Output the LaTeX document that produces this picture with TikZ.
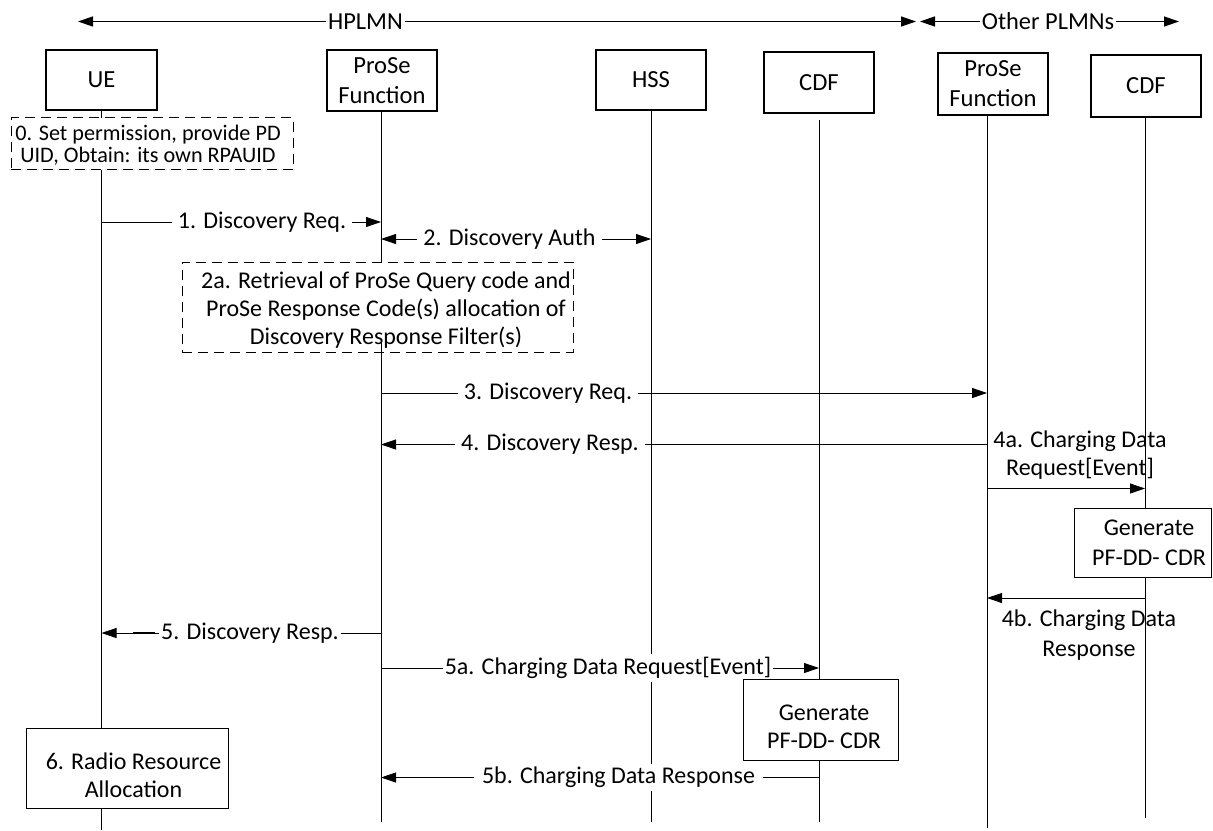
\documentclass[tikz,border=0pt]{standalone}
\usepackage{fontspec}
\setmainfont{Carlito}
\usetikzlibrary{arrows.meta,backgrounds}
\begin{document}
\begin{tikzpicture}[x=0.5pt,y=-0.5pt,line width=0.65pt,
  >={Triangle[length=7.5pt,width=5pt]},
  font=\fontsize{12}{14.2}\selectfont,
  ent/.style={draw,fill=white,align=center,inner sep=0pt,font=\fontsize{12.3}{15}\selectfont},
  notebox/.style={draw,dash pattern=on 5pt off 3pt,fill=white,align=center,inner sep=0pt},
  actbox/.style={draw,fill=white,align=center,inner sep=0pt},
  lbl/.style={fill=white,inner sep=1.5pt},
  plain/.style={align=center,inner sep=0pt}]
\useasboundingbox (0,0) rectangle (1213,830);

% header
\coordinate (hl) at (78,21.5);
\coordinate (hr) at (916,21.5);
\coordinate (ol) at (920,21.5);
\coordinate (or) at (1179,21.5);
\draw[<->] (hl) -- (hr);
\draw[<->] (ol) -- (or);
\node[lbl,inner sep=1pt,font=\fontsize{12.2}{14}\selectfont] (hplmn) at (365.5,21.5) {HPLMN};
\node[lbl,inner sep=1pt,font=\fontsize{12.2}{14}\selectfont] (oplmn) at (1048,21.5) {Other PLMNs};

% entities
\node[ent,minimum width=55.5pt,minimum height=30pt] (ue) at (101.5,80) {UE};
\node[ent,minimum width=55pt,minimum height=30.5pt] (pf1) at (382,80.5) {ProSe\\Function};
\node[ent,minimum width=55pt,minimum height=30pt] (hss) at (651,80) {HSS};
\node[ent,minimum width=55pt,minimum height=30.5pt] (cdf1) at (819,82.5) {CDF};
\node[ent,minimum width=55pt,minimum height=31pt] (pf2) at (993,84) {ProSe\\Function};
\node[ent,minimum width=55pt,minimum height=31pt] (cdf2) at (1146,86) {CDF};

% lifeline ends
\coordinate (ueb) at (101.5,830);
\coordinate (pf1b) at (381,822);
\coordinate (hssb) at (651,822);
\coordinate (cdf1t) at (819,120);
\coordinate (cdf1b) at (819,822);
\coordinate (pf2b) at (987,828);
\coordinate (cdf2b) at (1145,818);

\begin{pgfonlayer}{background}
\draw (ueb |- ue.south) -- (ueb);
\draw (pf1b |- pf1.south) -- (pf1b);
\draw (hss.south) -- (hssb);
\draw (cdf1t) -- (cdf1b);
\draw (pf2b |- pf2.south) -- (pf2b);
\draw (cdf2b |- cdf2.south) -- (cdf2b);
\end{pgfonlayer}

% step 0
\node[notebox,minimum width=141pt,minimum height=26pt] (n0) at (152,143.5) {};
\node[plain,font=\fontsize{11.1}{11}\selectfont] (t0) at (148,145)
  {0. Set permission, provide PD\\UID, Obtain: its own RPAUID};

% 1
\draw[->] (ueb |- 0,222) -- (pf1b |- 0,222);
\node[lbl,inner xsep=3pt] (l1) at (262,222) {1. Discovery Req.};
% 2
\draw[<->] (pf1b |- 0,239) -- (hssb |- 0,239);
\node[lbl,inner xsep=3pt] (l2) at (509.5,239) {2. Discovery Auth};
% 2a
\node[notebox,minimum width=195.5pt,minimum height=45pt] (n2a) at (377.5,307) {};
\node[plain] (t2a) at (386,310) {2a. Retrieval of ProSe Query code and\\ProSe Response Code(s) allocation of\\Discovery Response Filter(s)};
\coordinate (c2a) at (381,339);
\draw (c2a) -- (c2a |- n2a.south);
% 3
\draw[->] (pf1b |- 0,393) -- (pf2b |- 0,393);
\node[lbl,inner xsep=3pt] (l3) at (548,393) {3. Discovery Req.};
% 4
\draw[->] (pf2b |- 0,444.5) -- (pf1b |- 0,444.5);
\node[lbl,inner xsep=3pt] (l4) at (550,444.5) {4. Discovery Resp.};
% 4a
\node[plain] (l4a) at (1080,455) {4a. Charging Data\\Request[Event]};
\draw[->] (pf2b |- 0,488.5) -- (cdf2b |- 0,488.5);
\node[actbox,minimum width=68.5pt,minimum height=34.5pt] (g1) at (1142.5,543) {};
\node[plain,font=\fontsize{12}{15}\selectfont] (tg1) at (1149,543) {Generate\\PF-DD- CDR};
% 4b
\draw[->] (cdf2b |- 0,598) -- (pf2b |- 0,598);
\node[plain,font=\fontsize{12}{15}\selectfont] (l4b) at (1089,635) {4b. Charging Data\\Response};
% 5
\draw[->] (pf1b |- 0,633) -- (ueb |- 0,633);
\node[lbl,inner xsep=1pt] (l5) at (250,633) {5. Discovery Resp.};
\coordinate (d5a) at (133,633);
\coordinate (d5b) at (155,633);
\draw[line width=1.4pt] (d5a) -- (d5b);
% 5a
\draw[->] (pf1b |- 0,668) -- (cdf1b |- 0,668);
\node[lbl,inner xsep=1pt] (l5a) at (608,668) {5a. Charging Data Request[Event]};
\node[actbox,minimum width=77.5pt,minimum height=40.5pt] (g2) at (820.5,719.5) {};
\node[plain] (tg2) at (824,727) {Generate\\PF-DD- CDR};
% 5b
\draw[->] (cdf1b |- 0,777.5) -- (pf1b |- 0,777.5);
\node[lbl,inner xsep=4pt] (l5b) at (618.5,777.5) {5b. Charging Data Response};
% 6
\node[actbox,minimum width=101pt,minimum height=40pt] (n6) at (127,768) {};
\node[plain] (t6) at (133.5,775) {6. Radio Resource\\Allocation};
\end{tikzpicture}
\end{document}
